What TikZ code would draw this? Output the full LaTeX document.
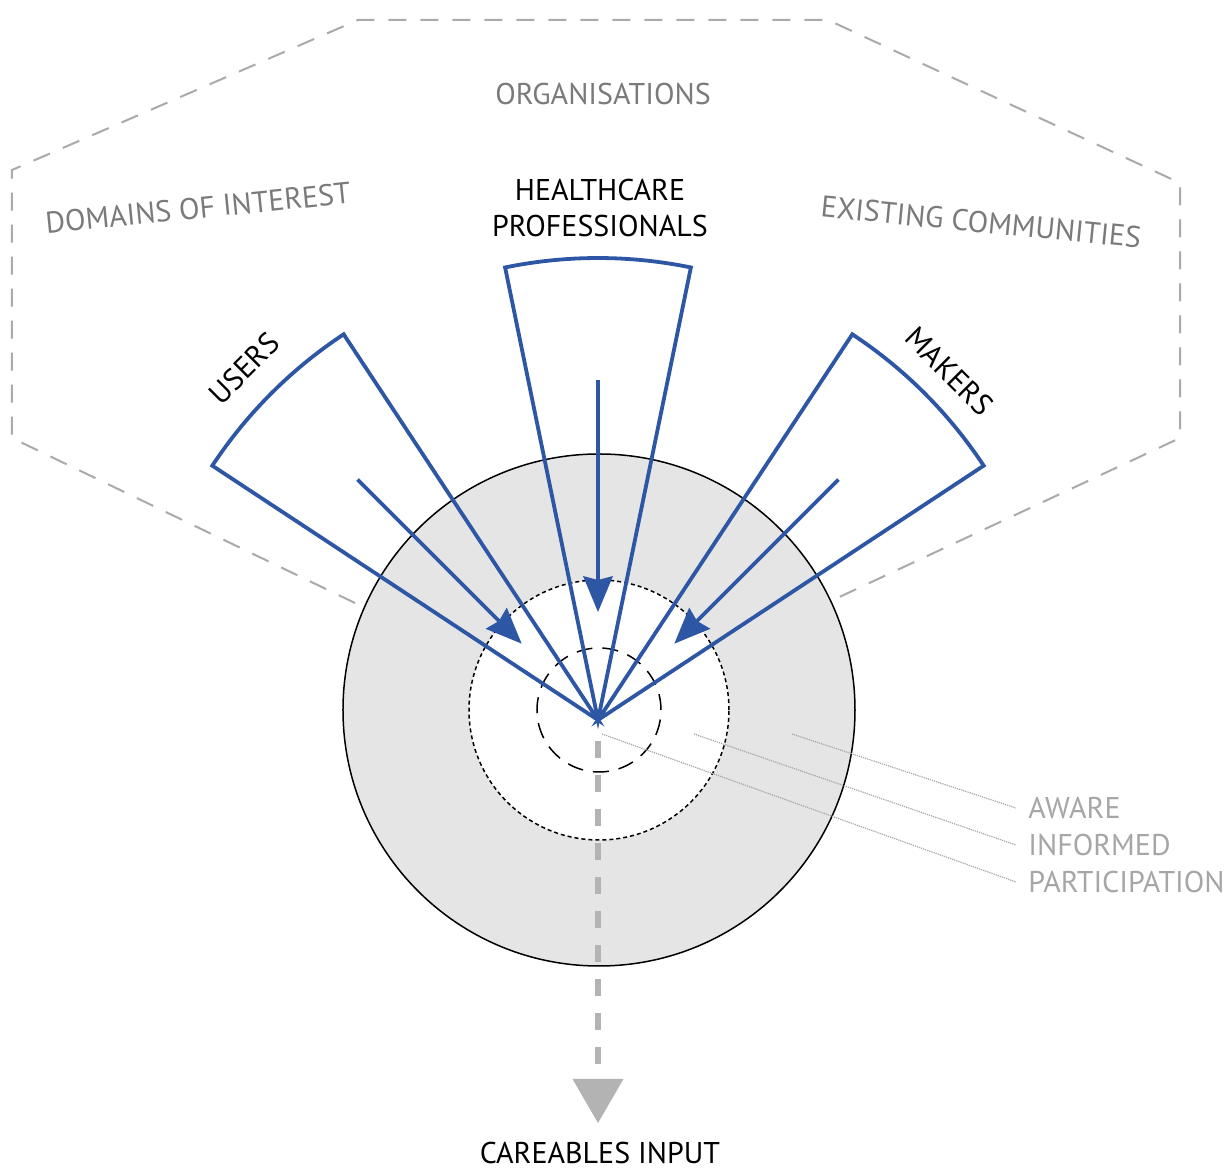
\documentclass[tikz,border=0pt]{standalone}
\usepackage{fontspec}
\setmainfont{PT Sans}
\usetikzlibrary{arrows.meta}
\definecolor{fanblue}{HTML}{2D57A5}
\definecolor{ringgrey}{HTML}{E5E5E5}
\definecolor{hexgrey}{HTML}{AAAAAA}
\definecolor{labelgrey}{HTML}{7A7A7A}
\definecolor{levelgrey}{HTML}{A6A6A6}
\definecolor{inputgrey}{HTML}{B3B3B3}

\begin{document}
\begin{tikzpicture}[x=0.5pt,y=0.5pt]
\tikzstyle{every node}=[font=\fontsize{15}{18}\selectfont,inner sep=0pt]
\tikzstyle{fan}=[draw=fanblue,line width=1.9pt,line join=miter]
\tikzstyle{pull}=[draw=fanblue,line width=1.9pt,-{Stealth[length=18pt,width=15pt,inset=2pt,line width=0pt]}]
\tikzstyle{group}=[text=labelgrey]
\tikzstyle{level}=[text=levelgrey,anchor=west]
\tikzstyle{lead}=[draw=levelgrey,line width=0.6pt,dash pattern=on 0.6pt off 0.5pt]
\useasboundingbox (-598,-451) rectangle (628,720);
\coordinate (apex) at (0,0);
\coordinate (hub) at (1,10);

\draw[hexgrey,line width=1pt,dash pattern=on 9pt off 7pt]
  (-243,117) -- (-586,282) -- (-586,550) -- (-240,700) -- (230,700) -- (582,537) -- (582,282) -- (235,120);

\filldraw[fill=ringgrey,draw=black,line width=0.75pt] (hub) circle (256);
\filldraw[fill=white,draw=black,line width=0.75pt,dash pattern=on 2pt off 1.5pt] (hub) circle (130);
\draw[line width=0.75pt,dash pattern=on 8pt off 5pt] (hub) circle (62);

\node[group] (orgs) at (5,626) {ORGANISATIONS};
\node[group,rotate=5.7] (domains) at (-400,512) {DOMAINS OF INTEREST};
\node[group,rotate=-5.6] (communities) at (383,498) {EXISTING COMMUNITIES};

\node[level] (aware) at (430,-88) {AWARE};
\node[level] (informed) at (430,-125) {INFORMED};
\node[level] (participation) at (430,-162) {PARTICIPATION};
\coordinate (aware lead) at (194,-14);
\coordinate (informed lead) at (96,-14);
\coordinate (participation lead) at (4,-14);
\draw[lead] (aware lead) -- ([xshift=-6pt]aware.west);
\draw[lead] (informed lead) -- ([xshift=-6pt]informed.west);
\draw[lead] (participation lead) -- ([xshift=-6pt]participation.west);

\node (careables) at (2,-433) {CAREABLES INPUT};
\coordinate (input top) at (0,-21);
\coordinate (input tip) at (0,-403);
\draw[inputgrey,line width=3pt,dash pattern=on 8.5pt off 8.5pt,
  -{Triangle[length=22pt,width=25.5pt,line width=0pt]}] (input top) -- (input tip);

\draw[fan] (apex) -- (123.4:462) arc[start angle=123.4,end angle=146.6,radius=462] -- cycle;
\draw[fan] (apex) -- (78.4:462) arc[start angle=78.4,end angle=101.6,radius=462] -- cycle;
\draw[fan] (apex) -- (33.4:462) arc[start angle=33.4,end angle=56.6,radius=462] -- cycle;

\coordinate (users from) at (135:340);
\coordinate (users to) at (135:108);
\coordinate (pros from) at (90:340);
\coordinate (pros to) at (90:108);
\coordinate (makers from) at (45:340);
\coordinate (makers to) at (45:108);
\draw[pull] (users from) -- (users to);
\draw[pull] (pros from) -- (pros to);
\draw[pull] (makers from) -- (makers to);

\node[rotate=45] (users) at (135.2:499) {USERS};
\node[align=center] (pros) at (2,512) {HEALTHCARE\\PROFESSIONALS};
\node[rotate=-45] (makers) at (44.8:495) {MAKERS};
\end{tikzpicture}
\end{document}
